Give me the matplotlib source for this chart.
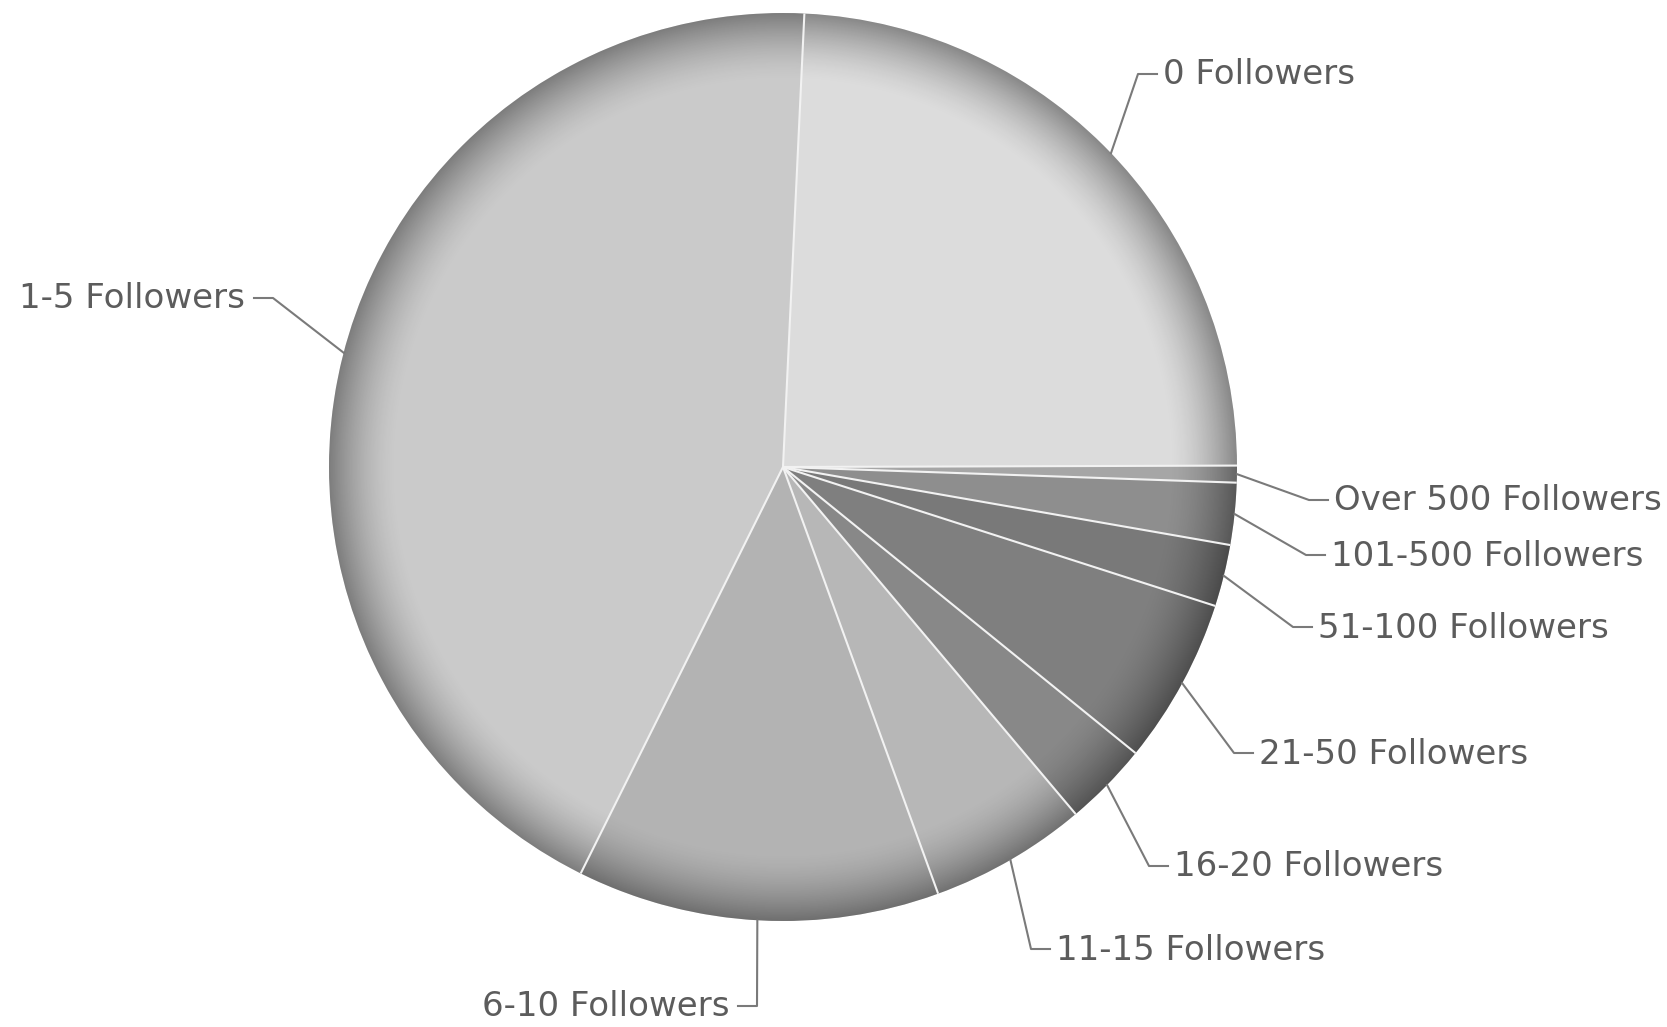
import numpy as np
import matplotlib
matplotlib.use("Agg")
import matplotlib.pyplot as plt
from matplotlib.patches import Circle

W, H = 1667, 1027

# share of users by follower count (percent), clockwise from the top
labels = ["0 Followers", "Over 500 Followers", "101-500 Followers", "51-100 Followers",
          "21-50 Followers", "16-20 Followers", "11-15 Followers", "6-10 Followers",
          "1-5 Followers"]
shares = [24.2, 0.6, 2.2, 2.2, 5.9, 3.0, 5.6, 12.9, 43.4]
colors = ["#dcdcdc", "#a6a6a6", "#8e8e8e", "#797979", "#7f7f7f", "#888888",
          "#b7b7b7", "#b3b3b3", "#cacaca"]

# label elbow positions (pixels from top-left) and side of the text
elbows = [(1138, 74), (1309, 500), (1306, 555), (1293, 627), (1234, 753),
          (1149, 866), (1031, 949), (757, 1006), (273, 298)]
sides = ["r", "r", "r", "r", "r", "r", "r", "l", "l"]

cx, cy, R = 783, H - 467, 454
start = 87.3

fig = plt.figure(figsize=(W / 100, H / 100), dpi=100)
ax = fig.add_axes([0, 0, 1, 1])

wedges, _ = ax.pie(shares, colors=colors, startangle=start, counterclock=False,
                   center=(cx, cy), radius=R, wedgeprops=dict(linewidth=0))

# bevel: darken towards the rim
n = 700
xs = np.linspace(cx - R, cx + R, n)
ys = np.linspace(cy - R, cy + R, n)
gx, gy = np.meshgrid(xs, ys)
rr = np.hypot(gx - cx, gy - cy)
band = 68
t = np.clip((rr - (R - band)) / band, 0, 1)
alpha = 0.38 * t ** 1.6
img = np.zeros((n, n, 4))
img[..., 3] = alpha
im = ax.imshow(img, extent=[cx - R, cx + R, cy - R, cy + R], origin="lower",
               interpolation="bilinear", zorder=3)
im.set_clip_path(Circle((cx, cy), R, transform=ax.transData))

# separators between slices
bounds = start - np.cumsum([0] + shares) / 100 * 360
for a in bounds[:-1]:
    r = np.radians(a)
    ax.plot([cx, cx + R * np.cos(r)], [cy, cy + R * np.sin(r)],
            color="#f2f2f2", lw=1.5, zorder=4, solid_capstyle="butt")

# leader lines and labels
mids = (bounds[:-1] + bounds[1:]) / 2
for lab, m, (ex, ey), side in zip(labels, mids, elbows, sides):
    r = np.radians(m)
    sx, sy = cx + R * np.cos(r), cy + R * np.sin(r)
    ey = H - ey
    hx = ex + 19 if side == "r" else ex - 19
    ax.plot([sx, ex, hx], [sy, ey, ey], color="#7a7a7a", lw=1.5, zorder=5)
    if side == "r":
        ax.text(hx + 6, ey - 1, lab, ha="left", va="center", fontsize=24.5,
                color="#5c5c5c")
    else:
        ax.text(hx - 9, ey - 1, lab, ha="right", va="center", fontsize=24.5,
                color="#5c5c5c")

ax.set_xlim(0, W)
ax.set_ylim(0, H)
ax.set_aspect("equal", adjustable="box")
ax.axis("off")

fig.savefig("out.png", dpi=100, facecolor="white")
